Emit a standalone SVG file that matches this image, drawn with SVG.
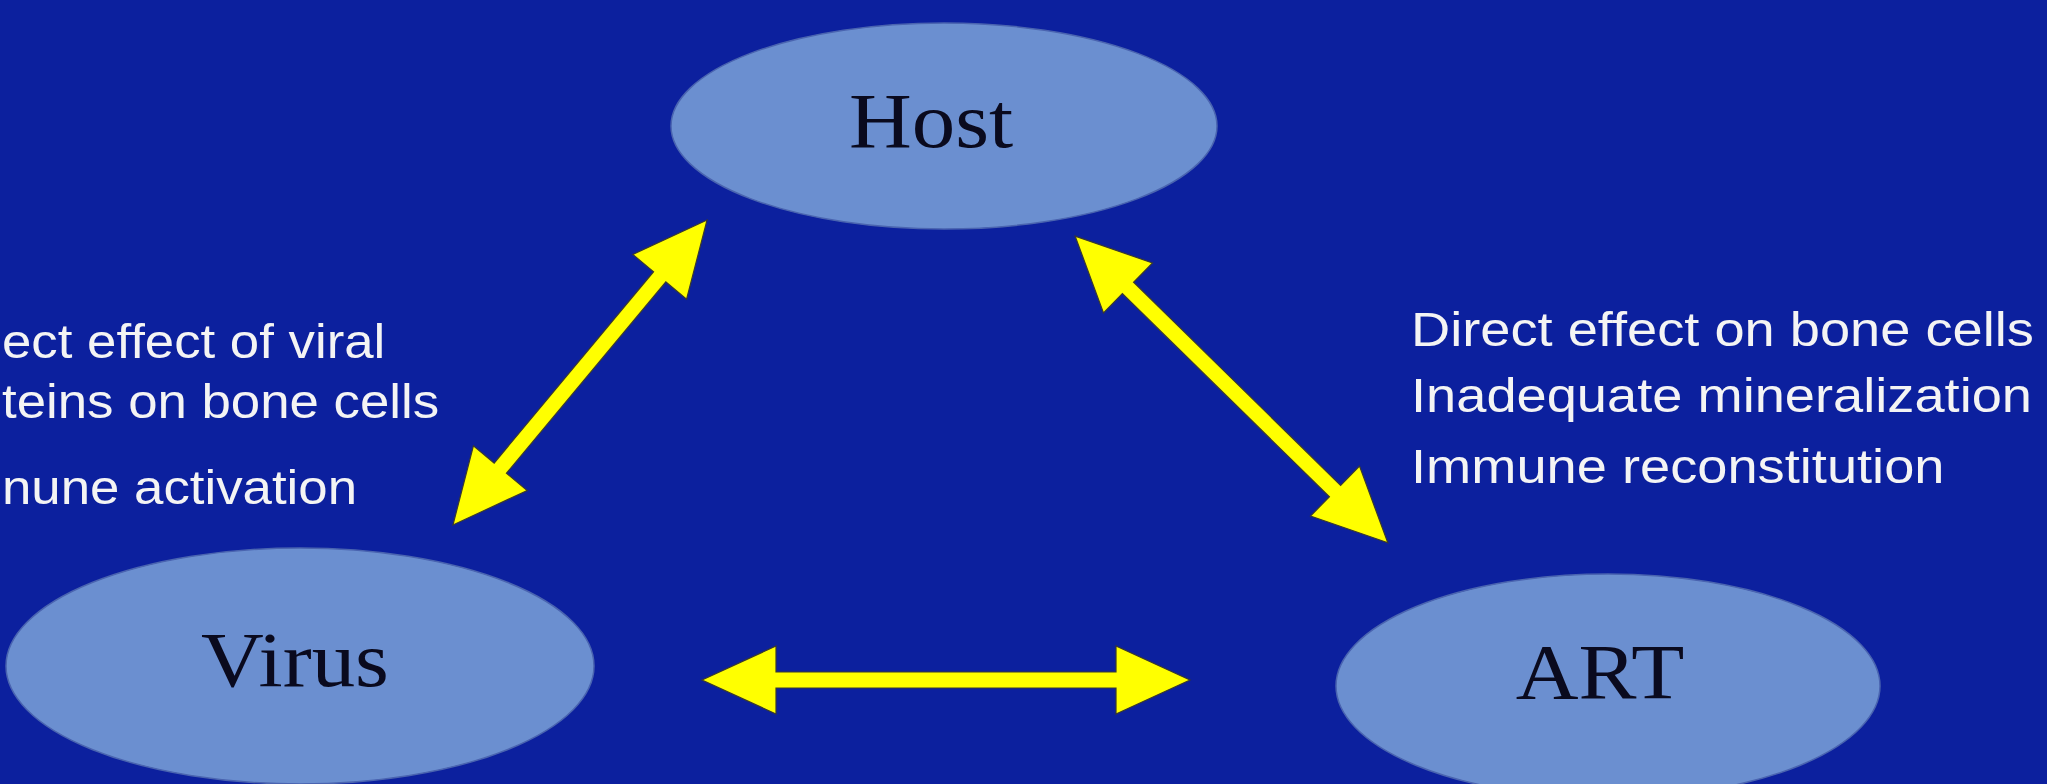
<svg xmlns="http://www.w3.org/2000/svg" width="2047" height="784" viewBox="0 0 2047 784">
<style>
.node ellipse{fill:#6b8fd0;stroke:#4a64b0;stroke-width:1.5}
.lbl{font-family:"Liberation Serif","Times New Roman",serif;font-size:79px;fill:#0a0a1e;text-anchor:middle}
.note{font-family:"Liberation Sans",Arial,sans-serif;font-size:48px;fill:#f4f4f4}
.arrow{fill:#ffff00;stroke:#3a3a30;stroke-width:1.2;stroke-linejoin:miter}
</style>
<rect x="0" y="0" width="2047" height="784" fill="#0c209e"/>
<g id="host" class="node">
<ellipse cx="944" cy="126" rx="273" ry="103"/>
<text class="lbl" transform="translate(931,147) scale(1.1,1)">Host</text>
</g>
<g id="virus" class="node">
<ellipse cx="300" cy="666" rx="294" ry="118"/>
<text class="lbl" transform="translate(295,686) scale(1.1,1)">Virus</text>
</g>
<g id="art" class="node">
<ellipse cx="1608" cy="686" rx="272" ry="112"/>
<text class="lbl" transform="translate(1600,698) scale(1.1,1)">ART</text>
</g>
<g id="virus-notes">
<text class="note" transform="translate(2,358) scale(1.1,1)">ect effect of viral</text>
<text class="note" transform="translate(2,418) scale(1.1,1)">teins on bone cells</text>
<text class="note" transform="translate(2,504) scale(1.1,1)">nune activation</text>
</g>
<g id="art-notes">
<text class="note" transform="translate(1411,346) scale(1.13,1)">Direct effect on bone cells</text>
<text class="note" transform="translate(1411,412) scale(1.13,1)">Inadequate mineralization</text>
<text class="note" transform="translate(1411,483) scale(1.13,1)">Immune reconstitution</text>
</g>
<g id="connectors">
<polygon class="arrow" transform="translate(580,372.5) rotate(-50.2)" points="-198.5,0 -124.5,-35 -124.5,-8 124.5,-8 124.5,-35 198.5,0 124.5,35 124.5,8 -124.5,8 -124.5,35"/>
<polygon class="arrow" transform="translate(1231.5,389.5) rotate(44.45)" points="-219,0 -145,-35 -145,-8 145,-8 145,-35 219,0 145,35 145,8 -145,8 -145,35"/>
<polygon class="arrow" transform="translate(946,680)" points="-244,0 -170,-34 -170,-8 170,-8 170,-34 244,0 170,34 170,8 -170,8 -170,34"/>
</g>
</svg>
